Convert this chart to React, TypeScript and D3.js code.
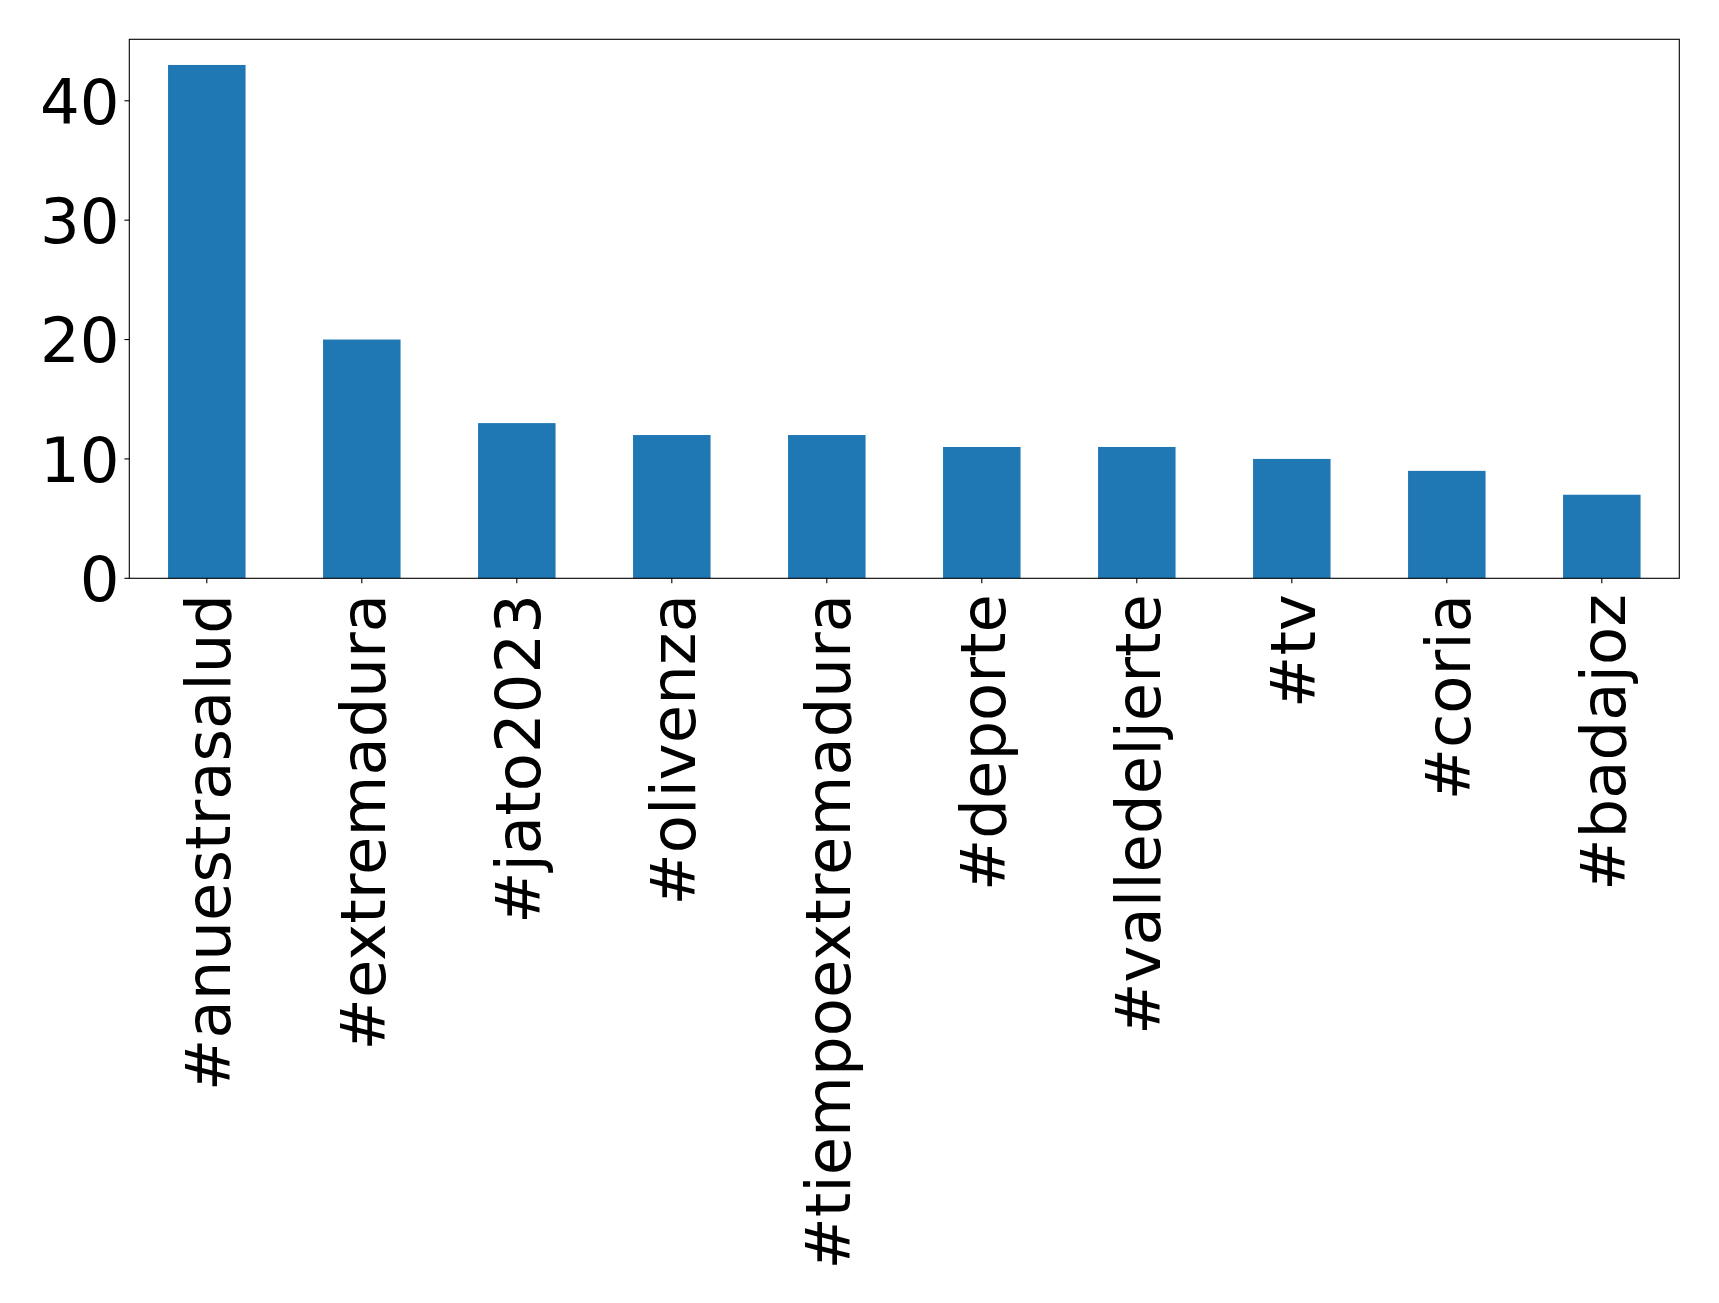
import React from "react";
import * as d3 from "d3";

const categories = [
  "#anuestrasalud",
  "#extremadura",
  "#jato2023",
  "#olivenza",
  "#tiempoextremadura",
  "#deporte",
  "#valledeljerte",
  "#tv",
  "#coria",
  "#badajoz",
];
const counts = [43, 20, 13, 12, 12, 11, 11, 10, 9, 7];
const yTicks = [0, 10, 20, 30, 40];

const W = 1719;
const H = 1303;
const left = 129.3;
const right = 1679.3;
const top = 39.3;
const bottom = 578.3;
const fontSize = 62.5;
const tickLen = 4.86;
const pad = 4.86;
const color = "#1f77b4";

export default function App() {
  const x = d3
    .scaleBand<string>()
    .domain(categories)
    .range([left, right])
    .paddingInner(0.5)
    .paddingOuter(0.25);
  const ymax = d3.max(counts)! * 1.05;
  const y = d3.scaleLinear().domain([0, ymax]).range([bottom, top]);

  return (
    <svg
      width={W}
      height={H}
      style={{ position: "absolute", left: 0, top: 0, background: "#fff" }}
      fontFamily="DejaVu Sans"
    >
      <rect x={0} y={0} width={W} height={H} fill="#fff" />
      {categories.map((c, i) => (
        <rect
          key={c}
          x={x(c)!}
          y={y(counts[i])}
          width={x.bandwidth()}
          height={y(0) - y(counts[i])}
          fill={color}
        />
      ))}
      <rect
        x={left}
        y={top}
        width={right - left}
        height={bottom - top}
        fill="none"
        stroke="#000"
        strokeWidth={1.1}
      />
      {yTicks.map((t) => (
        <g key={t}>
          <line x1={left - tickLen} x2={left} y1={y(t)} y2={y(t)} stroke="#000" strokeWidth={1.1} />
          <text
            x={left - tickLen - pad}
            y={y(t)}
            dy="0.365em"
            textAnchor="end"
            fontSize={fontSize}
            fill="#000"
          >
            {t}
          </text>
        </g>
      ))}
      {categories.map((c) => {
        const cx = x(c)! + x.bandwidth() / 2;
        return (
          <g key={c}>
            <line x1={cx} x2={cx} y1={bottom} y2={bottom + tickLen} stroke="#000" strokeWidth={1.1} />
            <text
              transform={`translate(${cx},${bottom + tickLen + pad + 6}) rotate(-90)`}
              dy="0.365em"
              textAnchor="end"
              fontSize={fontSize}
              fill="#000"
            >
              {c}
            </text>
          </g>
        );
      })}
    </svg>
  );
}
